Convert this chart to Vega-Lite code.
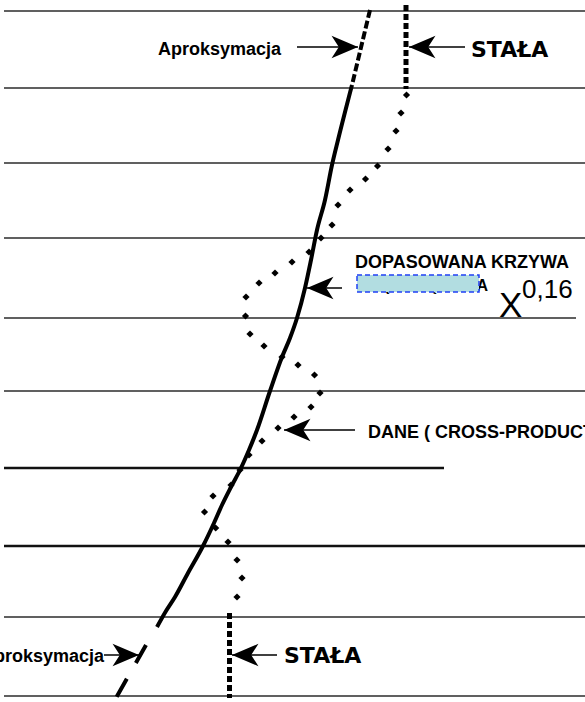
{
  "$schema": "https://vega.github.io/schema/vega-lite/v6.json",
  "width": 585,
  "height": 702,
  "autosize": {"type": "none"},
  "padding": 0,
  "background": "white",
  "config": {"view": {"stroke": null}},
  "datasets": {
    "ruling": [
      {"y": 11, "from": 4, "to": 585, "kind": "minor"},
      {"y": 88, "from": 4, "to": 585, "kind": "minor"},
      {"y": 163, "from": 4, "to": 585, "kind": "minor"},
      {"y": 238, "from": 4, "to": 585, "kind": "minor"},
      {"y": 318, "from": 4, "to": 576, "kind": "minor"},
      {"y": 391, "from": 4, "to": 585, "kind": "minor"},
      {"y": 468, "from": 4, "to": 444, "kind": "major"},
      {"y": 546, "from": 4, "to": 585, "kind": "major"},
      {"y": 617, "from": 4, "to": 585, "kind": "minor"},
      {"y": 696, "from": 4, "to": 585, "kind": "minor"}
    ],
    "fit": [
      {"part": "upper", "x": 370, "y": 10},
      {"part": "upper", "x": 352, "y": 85},
      {"part": "main", "x": 352, "y": 85},
      {"part": "main", "x": 338, "y": 140},
      {"part": "main", "x": 332, "y": 165},
      {"part": "main", "x": 325, "y": 200},
      {"part": "main", "x": 317, "y": 230},
      {"part": "main", "x": 311, "y": 260},
      {"part": "main", "x": 305, "y": 288},
      {"part": "main", "x": 297, "y": 318},
      {"part": "main", "x": 290, "y": 338},
      {"part": "main", "x": 282, "y": 357},
      {"part": "main", "x": 270, "y": 391},
      {"part": "main", "x": 257, "y": 430},
      {"part": "main", "x": 249, "y": 450},
      {"part": "main", "x": 241, "y": 468},
      {"part": "main", "x": 231, "y": 487},
      {"part": "main", "x": 222, "y": 505},
      {"part": "main", "x": 214, "y": 523},
      {"part": "main", "x": 203, "y": 546},
      {"part": "main", "x": 188, "y": 573},
      {"part": "main", "x": 175, "y": 597},
      {"part": "main", "x": 166, "y": 611},
      {"part": "main", "x": 157, "y": 627},
      {"part": "lower", "x": 146, "y": 645},
      {"part": "lower", "x": 116, "y": 698}
    ],
    "measured": [
      {"x": 406.5, "y": 95}, {"x": 401, "y": 113}, {"x": 396, "y": 131},
      {"x": 388, "y": 149}, {"x": 377.5, "y": 166}, {"x": 365.5, "y": 179},
      {"x": 350, "y": 190}, {"x": 338, "y": 205}, {"x": 332, "y": 225},
      {"x": 321, "y": 238}, {"x": 309, "y": 252}, {"x": 292, "y": 262},
      {"x": 275, "y": 273}, {"x": 259, "y": 283}, {"x": 246, "y": 297},
      {"x": 245.5, "y": 316}, {"x": 250, "y": 334}, {"x": 264, "y": 346},
      {"x": 282, "y": 357}, {"x": 298, "y": 365}, {"x": 314.5, "y": 375},
      {"x": 320, "y": 393}, {"x": 311, "y": 407}, {"x": 294, "y": 417},
      {"x": 278, "y": 428}, {"x": 262, "y": 441}, {"x": 249, "y": 455},
      {"x": 240, "y": 470}, {"x": 231, "y": 485}, {"x": 213, "y": 496},
      {"x": 204.5, "y": 512}, {"x": 215.7, "y": 528}, {"x": 228, "y": 542},
      {"x": 237, "y": 560}, {"x": 242, "y": 578}, {"x": 237, "y": 597}
    ],
    "constant": [
      {"end": "upper", "x": 406, "y": 5, "y2": 89},
      {"end": "lower", "x": 229.5, "y": 613, "y2": 698}
    ],
    "arrows": [
      {"target": "fit upper", "tail": 297, "tip": 358, "y": 47, "dir": "right"},
      {"target": "constant upper", "tail": 465, "tip": 409, "y": 47, "dir": "left"},
      {"target": "fitted curve", "tail": 342, "tip": 307, "y": 288, "dir": "left"},
      {"target": "data", "tail": 355, "tip": 284, "y": 430, "dir": "left"},
      {"target": "fit lower", "tail": 104, "tip": 139, "y": 655, "dir": "right"},
      {"target": "constant lower", "tail": 277, "tip": 232, "y": 655, "dir": "left"}
    ],
    "labels": [
      {"role": "callout", "text": "Aproksymacja", "x": 158, "y": 55},
      {"role": "callout", "text": "DOPASOWANA KRZYWA", "x": 355, "y": 268},
      {"role": "callout", "text": "DANE ( CROSS-PRODUCT )", "x": 368, "y": 438},
      {"role": "callout-end", "text": "Aproksymacja", "x": 104, "y": 662},
      {"role": "covered", "text": "( POTĘGOWA", "x": 488, "y": 291},
      {"role": "constant", "text": "STAŁA", "x": 471, "y": 57},
      {"role": "constant", "text": "STAŁA", "x": 284, "y": 663},
      {"role": "base", "text": "X", "x": 499, "y": 317},
      {"role": "power", "text": "0,16", "x": 522, "y": 298}
    ],
    "patch": [
      {"x": 357, "x2": 479, "y": 275, "y2": 292}
    ]
  },
  "layer": [
    {
      "data": {"name": "ruling"},
      "transform": [{"filter": "datum.kind === 'minor'"}],
      "mark": {"type": "rule", "color": "#2b2b2b", "strokeWidth": 1.3},
      "encoding": {
        "x": {"field": "from", "type": "quantitative", "scale": {"domain": [0, 585], "nice": false, "zero": false}, "axis": null},
        "x2": {"field": "to"},
        "y": {"field": "y", "type": "quantitative", "scale": {"domain": [0, 702], "reverse": true, "nice": false, "zero": false}, "axis": null}
      }
    },
    {
      "data": {"name": "ruling"},
      "transform": [{"filter": "datum.kind === 'major'"}],
      "mark": {"type": "rule", "color": "#111111", "strokeWidth": 2.4},
      "encoding": {
        "x": {"field": "from", "type": "quantitative", "axis": null},
        "x2": {"field": "to"},
        "y": {"field": "y", "type": "quantitative", "axis": null}
      }
    },
    {
      "data": {"name": "fit"},
      "transform": [{"filter": "datum.part === 'main'"}],
      "mark": {"type": "line", "color": "black", "strokeWidth": 4, "interpolate": "monotone", "strokeCap": "butt"},
      "encoding": {
        "x": {"field": "x", "type": "quantitative", "axis": null},
        "y": {"field": "y", "type": "quantitative", "axis": null},
        "order": {"field": "y", "type": "quantitative"}
      }
    },
    {
      "data": {"name": "fit"},
      "transform": [{"filter": "datum.part === 'upper'"}],
      "mark": {"type": "line", "color": "black", "strokeWidth": 4, "strokeDash": [8, 3], "strokeCap": "butt"},
      "encoding": {
        "x": {"field": "x", "type": "quantitative", "axis": null},
        "y": {"field": "y", "type": "quantitative", "axis": null},
        "order": {"field": "y", "type": "quantitative"}
      }
    },
    {
      "data": {"name": "fit"},
      "transform": [{"filter": "datum.part === 'lower'"}],
      "mark": {"type": "line", "color": "black", "strokeWidth": 4, "strokeDash": [20.6, 18.3], "strokeCap": "butt"},
      "encoding": {
        "x": {"field": "x", "type": "quantitative", "axis": null},
        "y": {"field": "y", "type": "quantitative", "axis": null},
        "order": {"field": "y", "type": "quantitative"}
      }
    },
    {
      "data": {"name": "constant"},
      "mark": {"type": "rule", "color": "black", "strokeWidth": 5, "strokeDash": [6, 3]},
      "encoding": {
        "x": {"field": "x", "type": "quantitative", "axis": null},
        "y": {"field": "y", "type": "quantitative", "axis": null},
        "y2": {"field": "y2"}
      }
    },
    {
      "data": {"name": "measured"},
      "mark": {"type": "point", "shape": "diamond", "filled": true, "color": "black", "size": 52, "opacity": 1},
      "encoding": {
        "x": {"field": "x", "type": "quantitative", "axis": null},
        "y": {"field": "y", "type": "quantitative", "axis": null}
      }
    },
    {
      "data": {"name": "arrows"},
      "mark": {"type": "rule", "color": "black", "strokeWidth": 1.6},
      "encoding": {
        "x": {"field": "tail", "type": "quantitative", "axis": null},
        "x2": {"field": "tip"},
        "y": {"field": "y", "type": "quantitative", "axis": null}
      }
    },
    {
      "data": {"name": "arrows"},
      "transform": [{"filter": "datum.dir === 'right'"}],
      "mark": {"type": "point", "shape": "M0,0L-2,-0.85L-1.45,0L-2,0.85Z", "filled": true, "color": "black", "size": 700, "opacity": 1},
      "encoding": {
        "x": {"field": "tip", "type": "quantitative", "axis": null},
        "y": {"field": "y", "type": "quantitative", "axis": null}
      }
    },
    {
      "data": {"name": "arrows"},
      "transform": [{"filter": "datum.dir === 'left'"}],
      "mark": {"type": "point", "shape": "M0,0L2,-0.85L1.45,0L2,0.85Z", "filled": true, "color": "black", "size": 700, "opacity": 1},
      "encoding": {
        "x": {"field": "tip", "type": "quantitative", "axis": null},
        "y": {"field": "y", "type": "quantitative", "axis": null}
      }
    },
    {
      "data": {"name": "labels"},
      "transform": [{"filter": "datum.role === 'covered'"}],
      "mark": {"type": "text", "align": "right", "baseline": "alphabetic", "font": "Liberation Sans", "fontWeight": "bold", "fontSize": 16, "color": "black"},
      "encoding": {
        "x": {"field": "x", "type": "quantitative", "axis": null},
        "y": {"field": "y", "type": "quantitative", "axis": null},
        "text": {"field": "text"}
      }
    },
    {
      "data": {"name": "patch"},
      "mark": {"type": "rect", "fill": "#b2dde1", "stroke": "#2140f5", "strokeWidth": 1.5, "strokeDash": [5, 3]},
      "encoding": {
        "x": {"field": "x", "type": "quantitative", "axis": null},
        "x2": {"field": "x2"},
        "y": {"field": "y", "type": "quantitative", "axis": null},
        "y2": {"field": "y2"}
      }
    },
    {
      "data": {"name": "labels"},
      "transform": [{"filter": "datum.role === 'callout'"}],
      "mark": {"type": "text", "align": "left", "baseline": "alphabetic", "font": "Liberation Sans", "fontWeight": "bold", "fontSize": 18, "color": "black"},
      "encoding": {
        "x": {"field": "x", "type": "quantitative", "axis": null},
        "y": {"field": "y", "type": "quantitative", "axis": null},
        "text": {"field": "text"}
      }
    },
    {
      "data": {"name": "labels"},
      "transform": [{"filter": "datum.role === 'callout-end'"}],
      "mark": {"type": "text", "align": "right", "baseline": "alphabetic", "font": "Liberation Sans", "fontWeight": "bold", "fontSize": 18, "color": "black"},
      "encoding": {
        "x": {"field": "x", "type": "quantitative", "axis": null},
        "y": {"field": "y", "type": "quantitative", "axis": null},
        "text": {"field": "text"}
      }
    },
    {
      "data": {"name": "labels"},
      "transform": [{"filter": "datum.role === 'constant'"}],
      "mark": {"type": "text", "align": "left", "baseline": "alphabetic", "font": "DejaVu Sans", "fontWeight": "bold", "fontSize": 22, "color": "black"},
      "encoding": {
        "x": {"field": "x", "type": "quantitative", "axis": null},
        "y": {"field": "y", "type": "quantitative", "axis": null},
        "text": {"field": "text"}
      }
    },
    {
      "data": {"name": "labels"},
      "transform": [{"filter": "datum.role === 'base'"}],
      "mark": {"type": "text", "align": "left", "baseline": "alphabetic", "font": "Liberation Sans", "fontSize": 35, "color": "black"},
      "encoding": {
        "x": {"field": "x", "type": "quantitative", "axis": null},
        "y": {"field": "y", "type": "quantitative", "axis": null},
        "text": {"field": "text"}
      }
    },
    {
      "data": {"name": "labels"},
      "transform": [{"filter": "datum.role === 'power'"}],
      "mark": {"type": "text", "align": "left", "baseline": "alphabetic", "font": "Liberation Sans", "fontSize": 26, "color": "black"},
      "encoding": {
        "x": {"field": "x", "type": "quantitative", "axis": null},
        "y": {"field": "y", "type": "quantitative", "axis": null},
        "text": {"field": "text"}
      }
    }
  ]
}
